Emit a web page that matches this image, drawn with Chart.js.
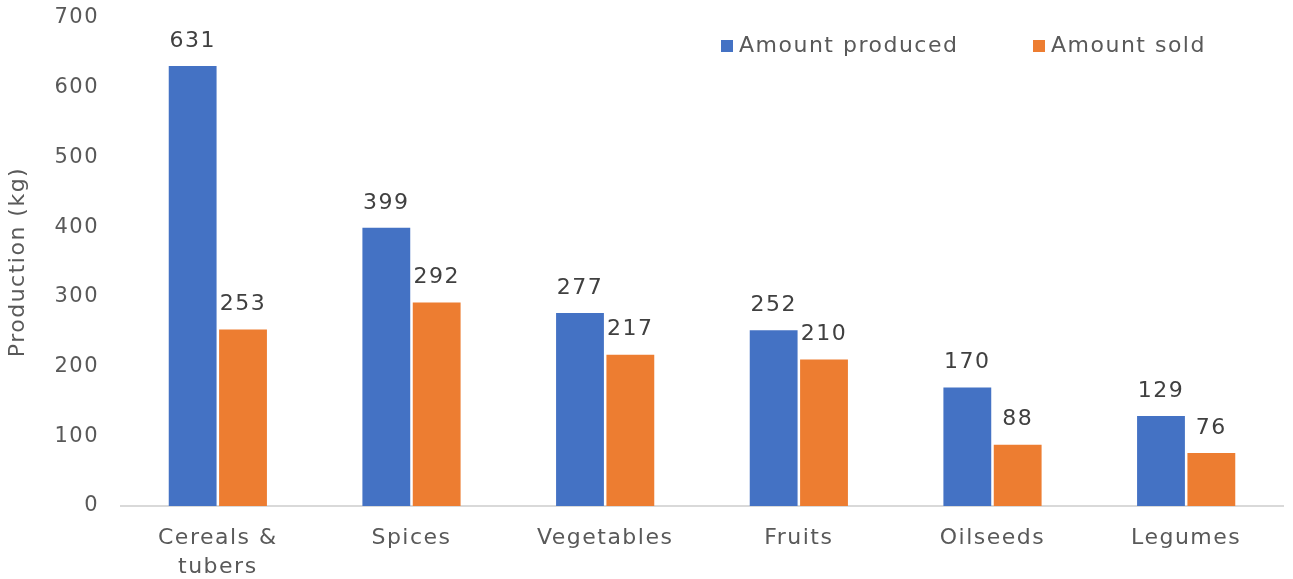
<!DOCTYPE html>
<html>
<head>
<meta charset="utf-8">
<script src="https://cdn.jsdelivr.net/npm/chart.js@4"></script>
<style>
html,body{margin:0;padding:0;background:#fff;}
#wrap{width:1293px;height:579px;position:relative;}
</style>
</head>
<body>
<div id="wrap"><canvas id="c" width="1293" height="579"></canvas></div>
<script>
const categories = [["Cereals &", "tubers"], "Spices", "Vegetables", "Fruits", "Oilseeds", "Legumes"];
const seriesNames = ["Amount produced", "Amount sold"];
const producedValues = [631, 399, 277, 252, 170, 129];
const soldValues = [253, 292, 217, 210, 88, 76];
const yTicks = [0, 100, 200, 300, 400, 500, 600, 700];
const seriesColors = ["#4472C4", "#ED7D31"];

const FONT = "'DejaVu Sans', sans-serif";
const SPACING = "1.5px";

const spacingPlugin = {
  id: 'spacing',
  beforeInit(chart) { chart.ctx.letterSpacing = SPACING; },
  beforeDraw(chart) { chart.ctx.letterSpacing = SPACING; }
};

const valueLabels = {
  id: 'valueLabels',
  afterDatasetsDraw(chart) {
    const ctx = chart.ctx;
    ctx.save();
    ctx.letterSpacing = SPACING;
    ctx.font = "22px " + FONT;
    ctx.fillStyle = "#404040";
    ctx.textAlign = "center";
    ctx.textBaseline = "middle";
    chart.data.datasets.forEach((ds, i) => {
      chart.getDatasetMeta(i).data.forEach((bar, j) => {
        ctx.fillText(String(ds.data[j]), bar.x, bar.y - 25);
      });
    });
    ctx.restore();
  }
};

const topLegend = {
  id: 'topLegend',
  afterDraw(chart) {
    const ctx = chart.ctx;
    ctx.save();
    ctx.letterSpacing = SPACING;
    ctx.font = "22px " + FONT;
    ctx.textBaseline = "middle";
    ctx.textAlign = "left";
    const y = 46;
    const starts = [721, 1033];
    chart.data.datasets.forEach((ds, i) => {
      const x = starts[i];
      ctx.fillStyle = ds.backgroundColor;
      ctx.fillRect(x, y - 6, 12, 12);
      ctx.fillStyle = "#595959";
      ctx.fillText(ds.label, x + 18, y);
    });
    ctx.restore();
  }
};

new Chart(document.getElementById('c'), {
  type: 'bar',
  data: {
    labels: categories,
    datasets: [
      { label: seriesNames[0], data: producedValues, backgroundColor: seriesColors[0], categoryPercentage: 0.52, barPercentage: 0.95 },
      { label: seriesNames[1], data: soldValues, backgroundColor: seriesColors[1], categoryPercentage: 0.52, barPercentage: 0.95 }
    ]
  },
  options: {
    responsive: false,
    animation: false,
    layout: { padding: { top: 18, right: 10, left: 0, bottom: 0 } },
    plugins: {
      legend: { display: false },
      tooltip: { enabled: false }
    },
    scales: {
      x: {
        grid: { display: false, drawTicks: false },
        border: { display: true, color: "#D9D9D9", width: 2 },
        ticks: { color: "#595959", font: { family: FONT, size: 22, lineHeight: 1.35 }, padding: 17, maxRotation: 0, autoSkip: false },
        afterFit(scale) { scale.height = 73; scale.paddingLeft = 0; scale.paddingRight = 0; }
      },
      y: {
        min: 0, max: 700,
        afterBuildTicks(scale) { scale.ticks = yTicks.map(v => ({ value: v })); },
        grid: { display: false, drawTicks: false },
        border: { display: false },
        ticks: { color: "#595959", font: { family: FONT, size: 21 }, padding: 22 },
        title: { display: true, text: "Production (kg)", color: "#595959", font: { family: FONT, size: 22 }, padding: { top: 5, bottom: 0 } },
        afterFit(scale) { scale.width = 121; scale.paddingTop = 0; scale.paddingBottom = 0; }
      }
    }
  },
  plugins: [spacingPlugin, valueLabels, topLegend]
});
</script>
</body>
</html>
